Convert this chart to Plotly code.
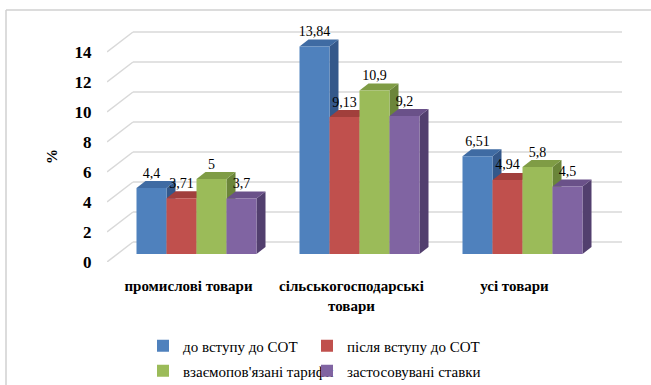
import plotly.graph_objects as go

# ---- data -------------------------------------------------------------
categories = ["промислові товари", "сільськогосподарські<br>товари", "усі товари"]
series_names = [
    "до вступу до СОТ",
    "після вступу до СОТ",
    "взаємопов'язані тарифи",
    "застосовувані ставки",
]
before_wto = [4.4, 13.84, 6.51]
after_wto = [3.71, 9.13, 4.94]
bound_tariffs = [5, 10.9, 5.8]
applied_rates = [3.7, 9.2, 4.5]
y_ticks = [0, 2, 4, 6, 8, 10, 12, 14]
y_title = "%"

# ---- style ------------------------------------------------------------
W, H = 651, 385
GROUP_PX = 163          # horizontal pixels per category slot
UNIT_PX = 15            # vertical pixels per percentage point
WALL_DX, WALL_DY = 26, 20   # depth of the back wall (px)
BAR_DX, BAR_DY = 8, 8       # bars sit this far into the box (px)
BAR_W = 30                  # bar width (px)
DEPTH_DX, DEPTH_DY = 9, 7   # bar thickness (px)
PAD_TOP, PAD_RIGHT = 2, 2

fronts = ["#4F81BD", "#C0504D", "#9BBB59", "#8064A2"]
tops = ["#3F6BA3", "#A13F3C", "#7F9C45", "#6A5189"]
sides = ["#34588A", "#8A3431", "#6B853A", "#523F6E"]
GRID = "#D9D9D9"
SERIF = "Liberation Serif"

# legend grid: two columns, two rows (left edge px, row centre px)
LEGEND_COLS = [143, 307]
LEGEND_ROWS = [346, 371]


def serif(size, bold=False):
    f = dict(family=SERIF, size=size, color="#000000")
    if bold:
        f["weight"] = "bold"
    return f


ux = 1.0 / GROUP_PX
uy = 1.0 / UNIT_PX
n_cat = len(categories)
x_lo = -0.5
x_hi = n_cat - 0.5 + (WALL_DX + PAD_RIGHT) * ux
y_top = max(y_ticks)
y_hi = y_top + (WALL_DY + PAD_TOP) * uy

plot_w = n_cat * GROUP_PX + WALL_DX + PAD_RIGHT
plot_h = y_top * UNIT_PX + WALL_DY + PAD_TOP
m_l = 107
m_t = 30
m_r = W - m_l - plot_w
m_b = H - m_t - plot_h

all_series = [before_wto, after_wto, bound_tariffs, applied_rates]


def px_x(p):
    return (p - m_l) / plot_w


def px_y(p):
    return (H - m_b - p) / plot_h


fig = go.Figure()
shapes = []

# back wall grid and the slanted lines of the left wall
for t in y_ticks:
    shapes.append(dict(type="line", xref="x", yref="y", layer="below",
                       x0=x_lo + WALL_DX * ux, x1=n_cat - 0.5 + WALL_DX * ux,
                       y0=t + WALL_DY * uy, y1=t + WALL_DY * uy,
                       line=dict(color=GRID, width=1.5)))
    shapes.append(dict(type="line", xref="x", yref="y", layer="below",
                       x0=x_lo, x1=x_lo + WALL_DX * ux,
                       y0=t, y1=t + WALL_DY * uy,
                       line=dict(color=GRID, width=1.5)))

# bar geometry: front faces are bar traces, tops/sides are path shapes
bar_x = []
base = BAR_DY * uy
ddx, ddy = DEPTH_DX * ux, DEPTH_DY * uy
half = BAR_W * ux / 2
for s in range(len(all_series)):
    bar_x.append([g + BAR_DX * ux + (s - 1.5) * BAR_W * ux for g in range(n_cat)])

for g in range(n_cat):
    for s, vals in enumerate(all_series):
        xc = bar_x[s][g]
        x0, x1 = xc - half, xc + half
        yt = base + vals[g]
        side = (f"M{x1},{base} L{x1 + ddx},{base + ddy} "
                f"L{x1 + ddx},{yt + ddy} L{x1},{yt} Z")
        top = (f"M{x0},{yt} L{x0 + ddx},{yt + ddy} "
               f"L{x1 + ddx},{yt + ddy} L{x1},{yt} Z")
        shapes.append(dict(type="path", path=side, xref="x", yref="y",
                           layer="between", fillcolor=sides[s],
                           line=dict(width=0)))
        shapes.append(dict(type="path", path=top, xref="x", yref="y",
                           layer="between", fillcolor=tops[s],
                           line=dict(width=0)))

legend_ids = ["legend", "legend2", "legend3", "legend4"]
for s, vals in enumerate(all_series):
    fig.add_trace(go.Bar(
        x=bar_x[s], y=vals, base=base, width=BAR_W * ux,
        name=series_names[s],
        marker=dict(color=fronts[s], line=dict(width=0)),
        legend=legend_ids[s],
        hovertemplate="%{y}<extra>" + series_names[s] + "</extra>",
    ))

# value labels above each bar
for s, vals in enumerate(all_series):
    fig.add_trace(go.Scatter(
        x=bar_x[s], y=[base + v + ddy for v in vals],
        mode="text",
        text=[f"{v:g}".replace(".", ",") for v in vals],
        textposition="top center",
        textfont=serif(14),
        showlegend=False, hoverinfo="skip", cliponaxis=False,
    ))

# outer chart frame (top and left edges)
fx0 = px_x(6)
fy0 = px_y(10)
shapes.append(dict(type="line", xref="paper", yref="paper", layer="below",
                   x0=fx0, x1=px_x(W + 5), y0=fy0, y1=fy0,
                   line=dict(color="#D0D0D0", width=1.5)))
shapes.append(dict(type="line", xref="paper", yref="paper", layer="below",
                   x0=fx0, x1=fx0, y0=fy0, y1=px_y(H + 5),
                   line=dict(color="#D0D0D0", width=1.5)))


def legend_box(col, row):
    return dict(
        x=px_x(LEGEND_COLS[col]), y=px_y(LEGEND_ROWS[row]),
        orientation="h", xanchor="left", yanchor="middle",
        font=serif(15), itemwidth=30,
        bgcolor="rgba(0,0,0,0)", borderwidth=0,
    )


fig.update_layout(
    width=W, height=H,
    template="none",
    margin=dict(l=m_l, r=m_r, t=m_t, b=m_b, autoexpand=False),
    paper_bgcolor="white", plot_bgcolor="white",
    font=serif(14),
    barmode="overlay",
    shapes=shapes,
    annotations=[dict(
        text=y_title, textangle=-90, showarrow=False,
        xref="paper", yref="paper", x=px_x(52), y=px_y(157),
        xanchor="center", yanchor="middle", font=serif(15, bold=True),
    )],
    xaxis=dict(
        range=[x_lo, x_hi], showgrid=False, zeroline=False, showline=False,
        tickmode="array", tickvals=list(range(n_cat)), ticktext=categories,
        ticks="outside", ticklen=10, tickcolor="rgba(0,0,0,0)",
        tickfont=serif(15, bold=True),
        fixedrange=True,
    ),
    yaxis=dict(
        range=[0, y_hi], showgrid=False, zeroline=False, showline=False,
        tickmode="array", tickvals=y_ticks, ticktext=[str(t) for t in y_ticks],
        ticks="outside", ticklen=11, tickcolor="rgba(0,0,0,0)",
        tickfont=serif(17, bold=True),
        fixedrange=True,
    ),
    legend=legend_box(0, 0),
    legend2=legend_box(1, 0),
    legend3=legend_box(0, 1),
    legend4=legend_box(1, 1),
)

fig.write_html("out.html")
